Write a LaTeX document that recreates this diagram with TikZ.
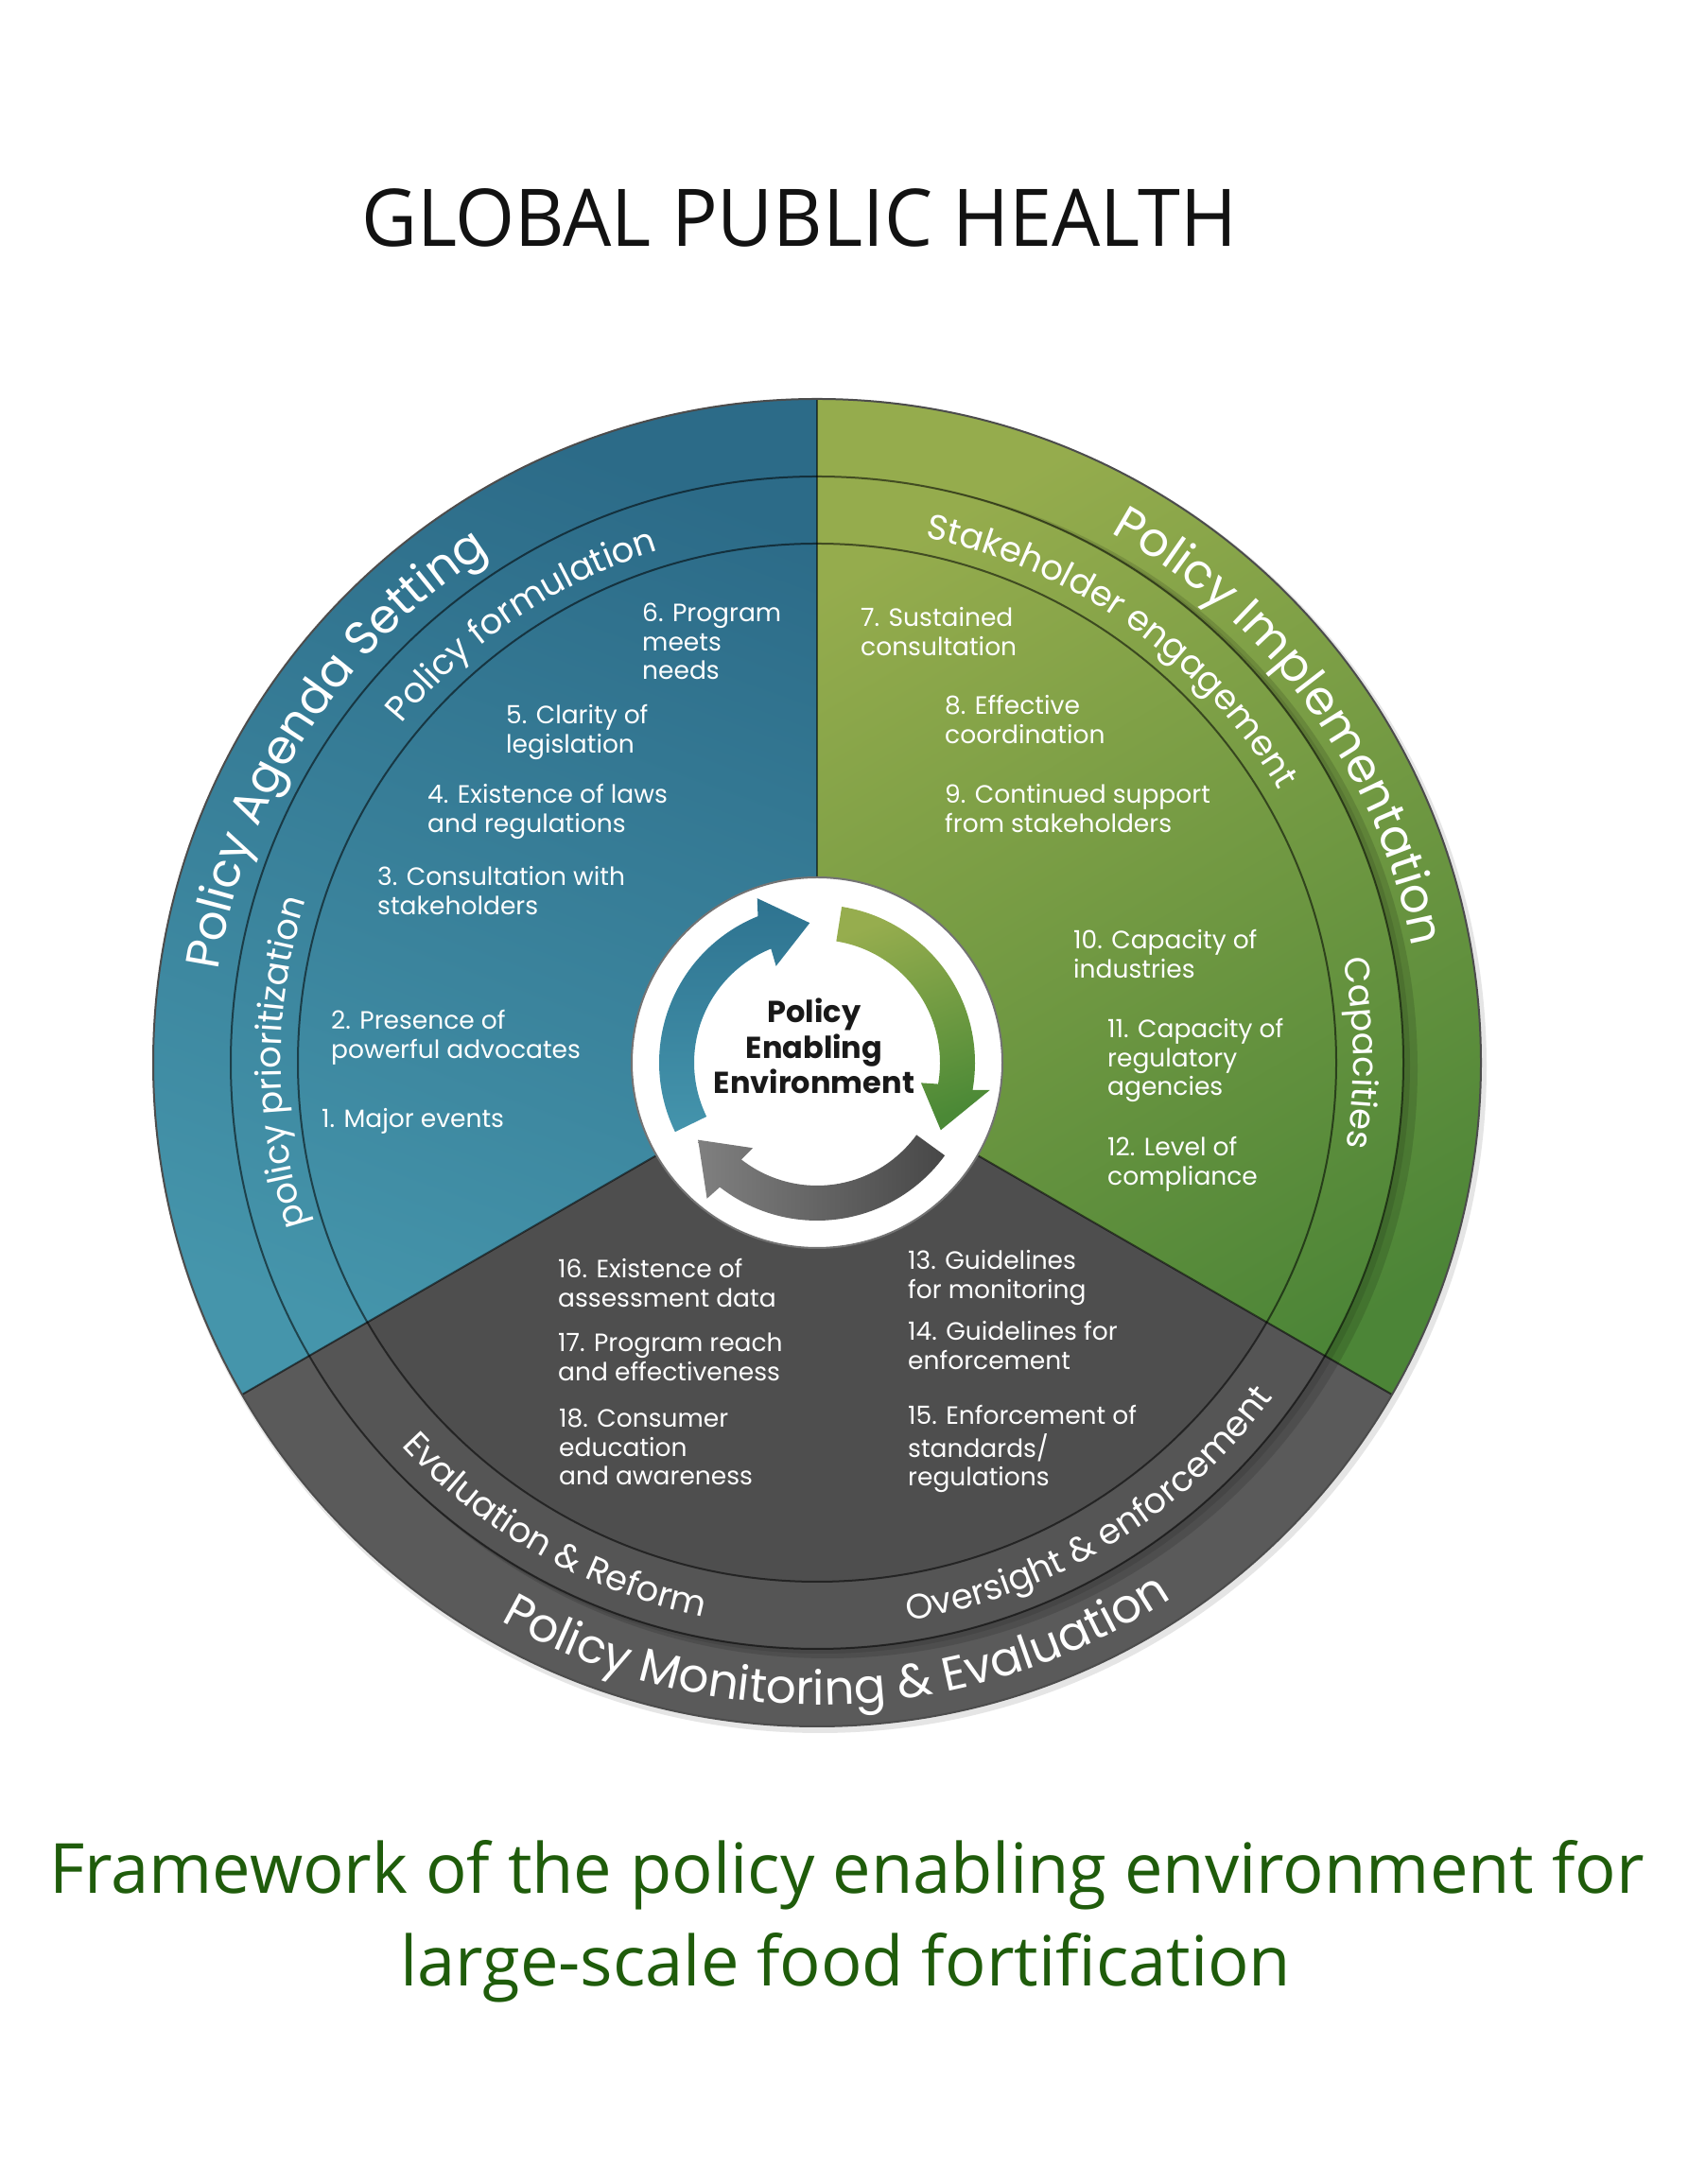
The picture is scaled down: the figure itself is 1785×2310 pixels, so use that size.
\documentclass[tikz,border=0pt]{standalone}
\usepackage{fontspec}
\usepackage{graphicx}
\usetikzlibrary{decorations.text,calc}
\newfontfamily\pop{Poppins}
\newfontfamily\osans{Open Sans}
\definecolor{blueA}{HTML}{2C6B88}
\definecolor{blueB}{HTML}{4595AB}
\definecolor{greenA}{HTML}{95AC4D}
\definecolor{greenB}{HTML}{4C8537}
\definecolor{grayIn}{HTML}{4E4E4E}
\definecolor{grayMid}{HTML}{555555}
\definecolor{grayOut}{HTML}{5A5A5A}
\definecolor{capgreen}{HTML}{1F5C0B}
\definecolor{arrBlueA}{HTML}{2E7390}
\definecolor{arrBlueB}{HTML}{4494AC}
\definecolor{arrGreenA}{HTML}{96AD4E}
\definecolor{arrGreenB}{HTML}{4B8936}
\newcommand\fo{\pop\fontsize{50}{50}\selectfont}
\newcommand\fm{\pop\fontsize{37}{37}\selectfont}
\newcommand\itmfont{\pop\fontsize{26.5}{30.5}\selectfont}
\newcommand\lns[1]{\begin{tabular}[t]{@{}l@{}}#1\end{tabular}}
\newcommand\ringtext[5]{\path[decorate,decoration={text along path,text align=center,text color=white,text={|#1|#2}}] (#3:#5) arc[start angle=#3,end angle=#4,radius=#5];}
\begin{document}
\begin{tikzpicture}[x=1pt,y=1pt,
  itm/.style={anchor=base west,inner sep=0pt,text=white,font=\itmfont},
  ringline/.style={draw=black,draw opacity=.55,line width=2pt}]
\useasboundingbox (0,0) rectangle (1785,2310);
\fill[white] (0,0) rectangle (1785,2310);
\coordinate (C) at (864,1186);
\begin{scope}[shift={(C)}]
  % soft outer shadow
  \fill[black!10] (3,-4) circle (705);
  % sectors
  \shade[top color=blueA,bottom color=blueB,shading angle=-20] (0,0) -- (90:702) arc[start angle=90,end angle=210,radius=702] -- cycle;
  \shade[top color=greenA,bottom color=greenB,shading angle=30] (0,0) -- (-30:702) arc[start angle=-30,end angle=90,radius=702] -- cycle;
  \fill[grayIn] (0,0) -- (210:702) arc[start angle=210,end angle=330,radius=702] -- cycle;
  \fill[grayOut] (210:702) arc[start angle=210,end angle=330,radius=702] -- (330:620) arc[start angle=330,end angle=210,radius=620] -- cycle;
  \fill[grayMid] (210:620) arc[start angle=210,end angle=330,radius=620] -- (330:549) arc[start angle=330,end angle=210,radius=549] -- cycle;
  % inner shadow of outer ring
  \begin{scope}
    \clip (0:702) arc[start angle=0,end angle=360,radius=702] -- (0:620) arc[start angle=0,end angle=-360,radius=620] -- cycle;
    \fill[black,opacity=.13] (11,-6) circle (624);
    \fill[black,opacity=.10] (5,-3) circle (622);
  \end{scope}
  % ring and sector lines
  \draw[ringline] (0,0) circle (620);
  \draw[ringline] (0,0) circle (549);
  \draw[ringline] (90:196) -- (90:702);
  \draw[ringline] (210:196) -- (210:702);
  \draw[ringline] (330:196) -- (330:702);
  \draw[black!70,line width=2pt] (0,0) circle (702);
  % centre disc
  \fill[white] (0,0) circle (196);
  \draw[black!55,line width=2pt] (0,0) circle (196);
  % cycle arrows
  \shade[top color=arrBlueA,bottom color=arrBlueB] (206:167) arc[start angle=206,end angle=112,radius=167] -- (110:185) -- (93:148) -- (113:111) -- (112:130) arc[start angle=112,end angle=206,radius=130] -- cycle;
  \shade[top color=arrGreenA,bottom color=arrGreenB,shading angle=20] (81:167) arc[start angle=81,end angle=-10,radius=167] -- (-9:185) -- (-28.6:149) -- (-11:112) -- (-10:130) arc[start angle=-10,end angle=81,radius=130] -- cycle;
  \shade[left color=black!50,right color=black!72] (-36:167) arc[start angle=-36,end angle=-128,radius=167] -- (231:185) -- (213:150) -- (233:113) -- (232:130) arc[start angle=232,end angle=324,radius=130] -- cycle;
  % curved ring labels
  \ringtext{\fo}{Policy Agenda Setting}{187}{107}{641}
  \ringtext{\fo}{Policy Implementation}{76}{-4}{641}
  \ringtext{\fo}{Policy Monitoring {\&} Evaluation}{222}{322}{679}
  \ringtext{\fm}{Policy formulation}{164}{84}{567}
  \ringtext{\fm}{policy prioritization}{220}{140}{567}
  \ringtext{\fm}{Stakeholder engagement}{95}{14}{567}
  \ringtext{\fm}{Capacities}{31}{-29}{567}
  \ringtext{\fm}{Evaluation {\&} Reform}{200.5}{280.5}{598}
  \ringtext{\fm}{Oversight {\&} enforcement}{261.5}{341.5}{598}
\end{scope}
% centre label
\node[anchor=base,inner sep=0pt,text=black!90,font=\pop\bfseries\fontsize{32}{37.5}\selectfont] (pee) at (861,1228) {\begin{tabular}[t]{@{}c@{}}Policy\\Enabling\\Environment\end{tabular}};
% items
\node[itm] (i6) at (679,1652) {\lns{6. Program\\meets\\needs}};
\node[itm] (i5) at (535,1544) {\lns{5. Clarity of\\legislation}};
\node[itm] (i4) at (452,1460) {\lns{4. Existence of laws\\and regulations}};
\node[itm] (i3) at (399,1373) {\lns{3. Consultation with\\stakeholders}};
\node[itm] (i2) at (350,1221) {\lns{2. Presence of\\powerful advocates}};
\node[itm] (i1) at (340,1117) {\lns{1. Major events}};
\node[itm] (i7) at (910,1647) {\lns{7. Sustained\\consultation}};
\node[itm] (i8) at (999,1554) {\lns{8. Effective\\coordination}};
\node[itm] (i9) at (999,1460) {\lns{9. Continued support\\from stakeholders}};
\node[itm] (i10) at (1135,1306) {\lns{10. Capacity of\\industries}};
\node[itm] (i11) at (1171,1212) {\lns{11. Capacity of\\regulatory\\agencies}};
\node[itm] (i12) at (1171,1087) {\lns{12. Level of\\compliance}};
\node[itm] (i13) at (960,967) {\lns{13. Guidelines\\for monitoring}};
\node[itm] (i14) at (960,892) {\lns{14. Guidelines for\\enforcement}};
\node[itm] (i15) at (960,803) {\lns{15. Enforcement of\\standards/\\regulations}};
\node[itm] (i16) at (590,958) {\lns{16. Existence of\\assessment data}};
\node[itm] (i17) at (590,880) {\lns{17. Program reach\\and effectiveness}};
\node[itm] (i18) at (591,800) {\lns{18. Consumer\\education\\and awareness}};
% title and caption
\node[anchor=base west,inner sep=0pt,text=black!93] (title) at (382,2049) {\resizebox{926pt}{61pt}{\osans GLOBAL PUBLIC HEALTH}};
\node[anchor=base west,inner sep=0pt,text=capgreen] (cap1) at (52,307) {\resizebox{1686pt}{56pt}{\osans Framework of the policy enabling environment for}};
\node[anchor=base west,inner sep=0pt,text=capgreen] (cap2) at (423,209) {\resizebox{942pt}{56pt}{\osans large-scale food fortification}};
\end{tikzpicture}
\end{document}
